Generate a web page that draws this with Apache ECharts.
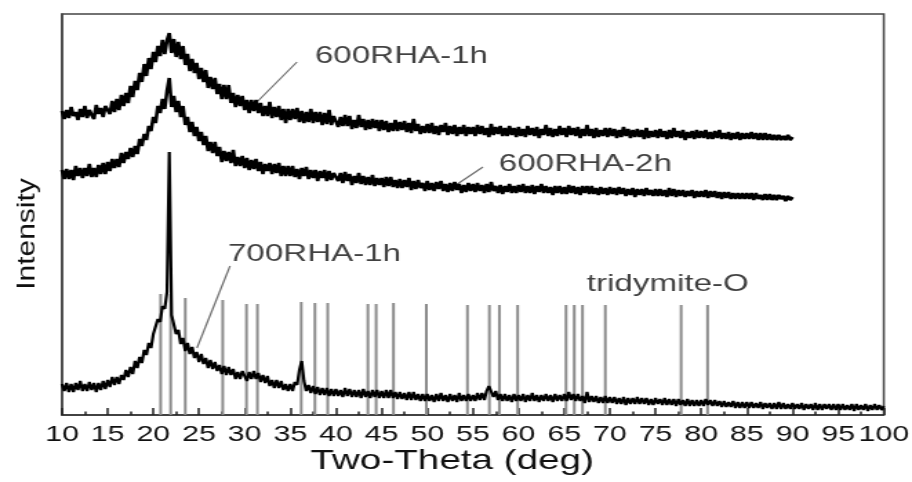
<!DOCTYPE html>
<html><head><meta charset="utf-8">
<script src="https://cdn.jsdelivr.net/npm/echarts@6/dist/echarts.min.js"></script>
<style>
html,body{margin:0;padding:0;background:#fff;overflow:hidden;}
#chart{width:661px;height:482px;transform:scaleX(1.3797);transform-origin:0 0;}
</style>
</head><body><div id="chart"></div>
<script>
// Sampling grid of the diffractograms (deg, Two-Theta)
const X_START = 10, X_STEP = 0.25;

// 600RHA-1h intensity (arbitrary units), 10..90 deg
const rha600_1h = [
304,296,305,297,308,299,303,295,306,298,309,297,305,300,296,310,301,307,298,309,
311,301,314,303,316,305,320,309,322,312,329,318,334,325,342,333,351,339,357,346,
363,353,369,359,375,361,375,382,362,376,358,373,356,369,350,361,344,356,342,352,
336,347,333,345,327,338,326,337,321,331,316,330,316,330,312,322,308,320,309,319,
305,315,302,315,304,315,302,312,299,309,299,313,297,308,298,309,295,306,292,306,
295,306,296,307,293,304,292,303,293,306,292,303,293,303,290,302,291,305,290,299,
299,288,298,289,300,289,299,286,295,287,300,288,296,285,295,286,296,287,295,284,
295,285,294,283,292,284,295,284,293,285,294,283,292,282,296,284,291,281,289,282,
291,282,292,281,289,280,290,283,292,280,289,281,290,279,288,281,290,279,288,281,
288,279,290,281,289,280,287,278,291,280,288,281,289,279,287,279,289,280,287,278,
288,279,286,278,289,280,287,279,288,277,286,280,290,279,287,278,286,279,289,280,
287,278,289,280,287,279,288,277,286,279,290,279,286,277,287,278,285,279,287,278,
287,279,286,277,285,278,288,279,286,277,285,278,286,278,285,276,287,277,284,278,
285,277,286,278,284,276,285,277,287,278,284,277,285,275,283,277,284,276,285,277,
284,277,285,276,283,276,284,277,285,276,282,276,283,275,282,276,283,275,282,276,
282,276,283,276,282,275,282,275,282,275,281,275,280,275,280,275,279,275,280,275,278
];

// 600RHA-2h intensity, 10..90 deg
const rha600_2h = [
245,236,246,236,245,235,249,239,247,237,247,239,251,238,247,238,250,241,252,241,
253,244,256,247,256,248,262,252,263,256,267,258,269,261,276,269,281,275,289,284,
298,292,309,302,316,306,324,337,308,319,303,314,298,309,290,298,283,293,279,288,
274,283,270,279,264,273,262,273,259,268,253,264,254,263,252,265,249,258,249,259,
247,257,245,255,246,256,244,253,241,251,244,252,241,251,242,252,239,249,239,249,
239,249,238,246,236,247,239,248,236,245,237,245,234,244,237,245,234,244,235,242,
243,234,242,232,243,234,241,230,239,232,242,231,239,230,238,230,240,229,237,230,
237,228,238,229,238,228,235,227,236,227,235,228,237,225,234,226,235,227,232,224,
234,225,232,224,233,226,234,224,231,223,232,224,233,225,231,222,230,223,232,224,
231,223,232,224,230,222,231,223,233,224,229,222,230,221,229,223,231,222,229,222,
230,223,231,222,229,222,230,221,229,223,231,222,229,222,228,220,229,222,229,221,
228,221,230,222,229,221,228,220,229,222,229,221,229,221,227,220,228,221,227,220,
228,221,227,220,228,221,227,219,226,220,227,218,226,220,226,219,227,220,225,219,
226,219,226,219,225,218,227,219,226,218,225,219,225,218,224,219,225,217,224,218,
224,218,225,217,224,218,224,217,223,216,223,217,223,216,222,216,222,216,222,216,
222,216,222,215,222,216,220,215,221,215,221,215,220,215,220,216,219,214,219,215,218
];

// 700RHA-1h intensity, 10..100 deg
const rha700_1h = [
31,24,32,23,31,23,32,25,34,24,31,24,33,25,32,23,32,25,34,26,
35,28,38,30,38,31,40,35,45,38,48,41,54,47,58,52,65,60,72,67,
81,79,96,93,109,106,123,263,100,98,81,85,71,77,64,72,61,68,57,63,
53,61,51,57,47,55,46,53,44,50,41,49,40,48,40,46,36,43,36,44,
42,34,43,36,44,36,42,33,40,32,39,29,35,27,35,27,34,25,31,24,
31,24,33,30,45,54,34,24,30,22,29,21,28,20,27,20,27,19,26,19,
26,19,25,18,27,19,26,18,25,18,25,17,26,18,24,17,25,18,25,17,
24,17,25,17,25,17,23,16,23,16,22,15,23,15,23,15,21,14,21,14,
21,14,20,13,21,14,22,14,20,13,21,14,20,13,22,14,20,14,21,14,
20,14,22,15,22,15,24,29,27,18,24,15,21,14,21,14,20,13,21,14,
20,14,21,13,20,14,22,14,20,13,20,14,21,14,20,13,21,14,20,14,
21,14,23,15,21,14,21,14,19,12,23,13,19,13,19,12,18,12,19,12,
18,12,18,11,17,11,18,10,17,11,17,11,18,11,17,11,17,10,16,10,
17,11,16,10,17,10,16,10,16,9,16,10,15,9,16,9,15,9,15,9,
15,9,16,10,15,9,15,9,14,8,14,8,13,8,14,7,13,7,13,7,
13,7,13,7,12,7,13,6,12,7,12,6,12,6,13,6,12,6,11,6,
12,6,11,6,12,5,11,6,11,5,12,5,11,5,11,6,11,5,11,5,
11,5,11,5,10,5,11,4,11,5,10,5,11,4,10,5,11,5,10,5,9
];

// tridymite-O reference pattern (stick positions and heights)
const stickPos = [20.8,21.9,23.5,27.6,30.2,31.4,36.2,37.7,39.1,43.5,44.4,46.3,49.9,
                  54.4,56.8,57.9,59.9,65.2,66.1,67.0,69.5,77.8,80.7];
const stickHeight = [121,121,117,115,111,111,113,112,112,111,111,112,111,
                     110,110,110,110,110,110,110,110,110,110];

// annotations (data coordinates)
const labelTexts = ['600RHA-1h','600RHA-2h','700RHA-1h','tridymite-O'];
const labelPos = [[37.70,359],[57.85,250.5],[28.18,160.5],[67.48,130.5]];
const leaderLines = [
  [[31.35,313],[35.73,353]],
  [[52.48,226],[56.10,248]],
  [[24.78,67],[28.40,149]]
];

const xName = 'Two-Theta (deg)';
const yName = 'Intensity';

const FONT = 'Liberation Sans, Arial, Helvetica, sans-serif';
const toPairs = arr => arr.map((v,i) => [X_START + i*X_STEP, v]);

const chart = echarts.init(document.getElementById('chart'), null, {renderer:'canvas'});

const series = [
  {
    type:'bar', name:'tridymite-O', barWidth:2, z:1, silent:true,
    itemStyle:{color:'#8c8c8c'},
    data: stickPos.map((x,i)=>[x, stickHeight[i]])
  },
  {type:'line', name:'600RHA-1h', data:toPairs(rha600_1h), symbol:'none', z:3,
   lineStyle:{color:'#000', width:2.6}, silent:true},
  {type:'line', name:'600RHA-2h', data:toPairs(rha600_2h), symbol:'none', z:3,
   lineStyle:{color:'#000', width:2.6}, silent:true},
  {type:'line', name:'700RHA-1h', data:toPairs(rha700_1h), symbol:'none', z:3,
   lineStyle:{color:'#000', width:2.2}, silent:true}
];
leaderLines.forEach(seg => series.push({
  type:'line', data:seg, symbol:'none', z:2, silent:true,
  lineStyle:{color:'#6e6e6e', width:1.2}
}));
series.push({
  type:'scatter', symbolSize:0, z:5, silent:true,
  data: labelTexts.map((t,i)=>({name:t, value:labelPos[i]})),
  label:{show:true, position:'right', distance:0, formatter:'{b}',
         fontSize:24, fontFamily:FONT, color:'#111'}
});

chart.setOption({
  animation:false,
  backgroundColor:'#fff',
  grid:{left:44.93, right:20.42, top:14, bottom:67, show:true,
        borderColor:'#444', borderWidth:1.5, containLabel:false, outerBoundsMode:'none'},
  xAxis:{
    type:'value', min:10, max:100, interval:5,
    name:xName, nameLocation:'middle', nameGap:32, nameMoveOverlap:false,
    nameTextStyle:{fontSize:28, fontFamily:FONT, color:'#111', padding:[0,30,0,0]},
    axisLine:{show:true, lineStyle:{color:'#333', width:1.5}},
    axisTick:{show:true, inside:true, length:7, lineStyle:{color:'#222', width:1.5}},
    minorTick:{show:true, splitNumber:2, length:3.5, lineStyle:{color:'#222', width:1.5}},
    axisLabel:{show:true, margin:9, fontSize:22, fontFamily:FONT, color:'#111',
               showMinLabel:true, showMaxLabel:true},
    splitLine:{show:false}
  },
  yAxis:{
    type:'value', min:0, max:401,
    axisLine:{show:true, lineStyle:{color:'#444', width:1.5}},
    axisTick:{show:false}, axisLabel:{show:false}, splitLine:{show:false}
  },
  graphic:[{
    type:'text', x:20.5, y:234, rotation:Math.PI/2, scaleX:1, scaleY:0.6, silent:true,
    style:{text:yName, fontSize:30, fontFamily:FONT, fill:'#111',
           align:'center', verticalAlign:'middle',
           textAlign:'center', textVerticalAlign:'middle'}
  }],
  series:series
});
</script>
</body></html>
